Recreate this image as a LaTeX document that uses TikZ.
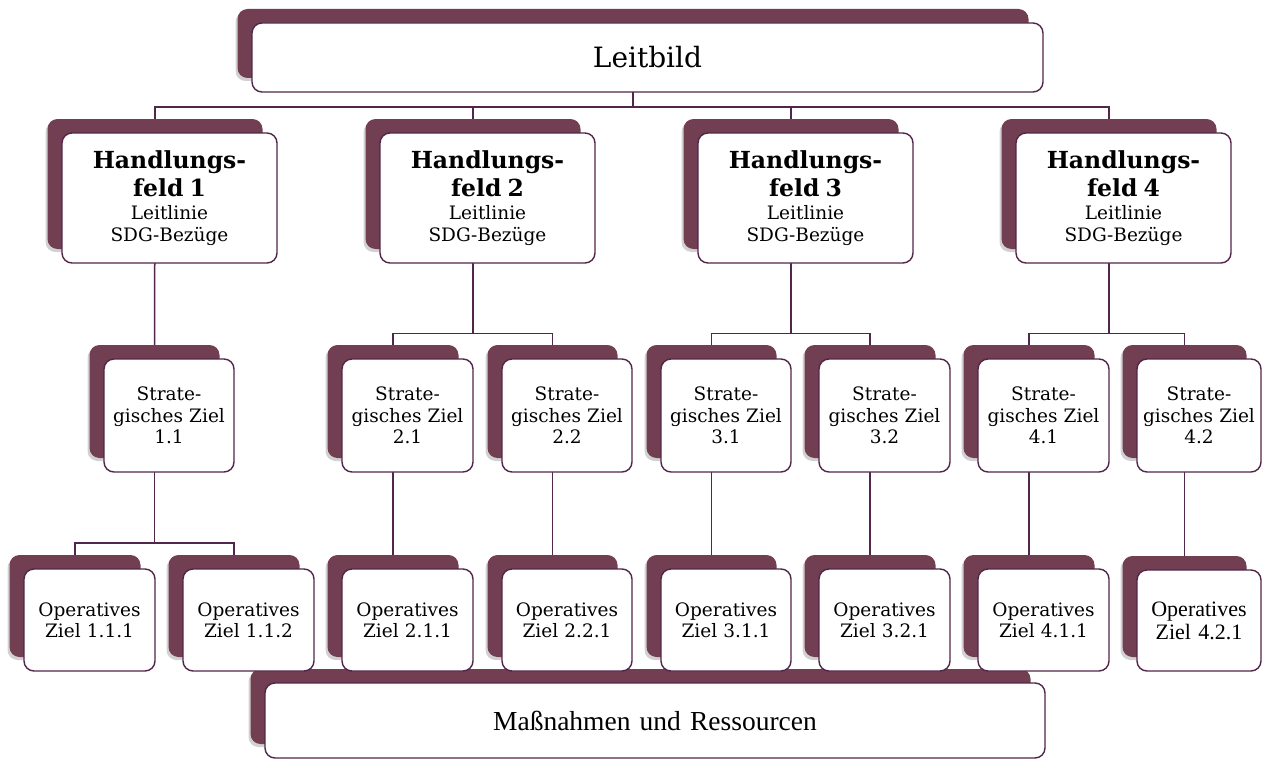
\documentclass[tikz,border=0pt]{standalone}
\usepackage{fontspec}
\setmainfont{DejaVu Serif}
\newfontfamily\cambriafont{Liberation Serif}
\usetikzlibrary{shadows}
\definecolor{backc}{RGB}{113,63,81}
\definecolor{linec}{RGB}{82,38,74}
\pgfdeclarelayer{bottom}
\pgfdeclarelayer{background}
\pgfsetlayers{bottom,background,main}
\tikzset{
  backbox/.style={fill=backc, draw=none, rounded corners=10pt, inner sep=0pt,
    drop shadow={shadow xshift=-2pt, shadow yshift=-3pt, opacity=0.18, fill=black}},
  frontbox/.style={draw=linec, line width=1.4pt, fill=white, rounded corners=10pt,
    inner sep=0pt, align=center},
  conn/.style={draw=linec, line width=1.5pt},
  hftext/.style={font=\fontsize{18.5}{21.5}\selectfont},
  sztext/.style={font=\fontsize{18.5}{21.5}\selectfont},
  oztext/.style={font=\fontsize{18.5}{21}\selectfont},
  camtext/.style={font=\cambriafont\fontsize{22}{23}\selectfont},
  leittext/.style={font=\fontsize{28}{32}\selectfont},
  masstext/.style={font=\cambriafont\fontsize{27.5}{30}\selectfont},
}
% name, x1, y1, x2, y2, style, text
\newcommand\cbox[7]{%
  \node[backbox, minimum width={#4pt-#2pt}, minimum height={#5pt-#3pt}]
    (#1s) at ({(#2+#4)/2-14.5},{(#3+#5)/2-14}) {};
  \node[frontbox, #6, minimum width={#4pt-#2pt}, minimum height={#5pt-#3pt},
    text width={#4pt-#2pt-12pt}]
    (#1) at ({(#2+#4)/2},{(#3+#5)/2}) {#7};
}
\begin{document}
\begin{tikzpicture}[x=1pt,y=-1pt]
\begin{pgfonlayer}{bottom}
\fill[white] (0,0) rectangle (1262,760);
\end{pgfonlayer}
\useasboundingbox (0,0) rectangle (1262,760);
\coordinate (bus) at (0,107);
\coordinate (forkA) at (0,333.5);
\coordinate (forkB) at (0,543);

\cbox{leit}{252}{23}{1043}{92}{leittext}{Leitbild}

\cbox{hf1}{62}{133}{277}{263}{hftext}{{\fontsize{23.5}{28}\selectfont\bfseries Handlungs-\\feld 1\par}\vspace{2pt}Leitlinie\\SDG-Bezüge}
\cbox{hf2}{380}{133}{595}{263}{hftext}{{\fontsize{23.5}{28}\selectfont\bfseries Handlungs-\\feld 2\par}\vspace{2pt}Leitlinie\\SDG-Bezüge}
\cbox{hf3}{698}{133}{913}{263}{hftext}{{\fontsize{23.5}{28}\selectfont\bfseries Handlungs-\\feld 3\par}\vspace{2pt}Leitlinie\\SDG-Bezüge}
\cbox{hf4}{1016}{133}{1231}{263}{hftext}{{\fontsize{23.5}{28}\selectfont\bfseries Handlungs-\\feld 4\par}\vspace{2pt}Leitlinie\\SDG-Bezüge}

\cbox{sz11}{104}{359}{234}{472}{sztext}{Strate-\\gisches Ziel\\1.1}
\cbox{sz21}{342}{359}{473}{472}{sztext}{Strate-\\gisches Ziel\\2.1}
\cbox{sz22}{502}{359}{632}{472}{sztext}{Strate-\\gisches Ziel\\2.2}
\cbox{sz31}{661}{359}{791}{472}{sztext}{Strate-\\gisches Ziel\\3.1}
\cbox{sz32}{819}{359}{950}{472}{sztext}{Strate-\\gisches Ziel\\3.2}
\cbox{sz41}{978}{359}{1109}{472}{sztext}{Strate-\\gisches Ziel\\4.1}
\cbox{sz42}{1137}{359}{1261}{472}{sztext}{Strate-\\gisches Ziel\\4.2}

\cbox{mass}{265}{683}{1045}{758}{masstext}{Maßnahmen und Ressourcen}

\cbox{oz111}{24}{569}{155}{671}{oztext}{Operatives\\Ziel 1.1.1}
\cbox{oz112}{183}{569}{314}{671}{oztext}{Operatives\\Ziel 1.1.2}
\cbox{oz211}{342}{569}{473}{671}{oztext}{Operatives\\Ziel 2.1.1}
\cbox{oz221}{502}{569}{632}{671}{oztext}{Operatives\\Ziel 2.2.1}
\cbox{oz311}{661}{569}{791}{671}{oztext}{Operatives\\Ziel 3.1.1}
\cbox{oz321}{819}{569}{950}{671}{oztext}{Operatives\\Ziel 3.2.1}
\cbox{oz411}{978}{569}{1109}{671}{oztext}{Operatives\\Ziel 4.1.1}
\cbox{oz421}{1137}{570}{1261}{671}{camtext}{Operatives\\Ziel 4.2.1}

\begin{pgfonlayer}{background}
  \foreach \h in {hf1,hf2,hf3,hf4}
    \draw[conn] (leits.center) -- (leits.center |- bus) -| (\h s.north);
  \draw[conn] (hf1s.center) -- (sz11s.north);
  \draw[conn] (hf2s.center) -- (hf2s.center |- forkA) -| (sz21s.north);
  \draw[conn] (hf2s.center) -- (hf2s.center |- forkA) -| (sz22s.north);
  \draw[conn] (hf3s.center) -- (hf3s.center |- forkA) -| (sz31s.north);
  \draw[conn] (hf3s.center) -- (hf3s.center |- forkA) -| (sz32s.north);
  \draw[conn] (hf4s.center) -- (hf4s.center |- forkA) -| (sz41s.north);
  \draw[conn] (hf4s.center) -- (hf4s.center |- forkA) -| (sz42s.north);
  \draw[conn] (sz11s.center) -- (sz11s.center |- forkB) -| (oz111s.north);
  \draw[conn] (sz11s.center) -- (sz11s.center |- forkB) -| (oz112s.north);
  \draw[conn] (sz21s.center) -- (oz211s.north);
  \draw[conn] (sz22s.center) -- (oz221s.north);
  \draw[conn] (sz31s.center) -- (oz311s.north);
  \draw[conn] (sz32s.center) -- (oz321s.north);
  \draw[conn] (sz41s.center) -- (oz411s.north);
  \draw[conn] (sz42s.center) -- (oz421s.north);
\end{pgfonlayer}
\end{tikzpicture}
\end{document}
